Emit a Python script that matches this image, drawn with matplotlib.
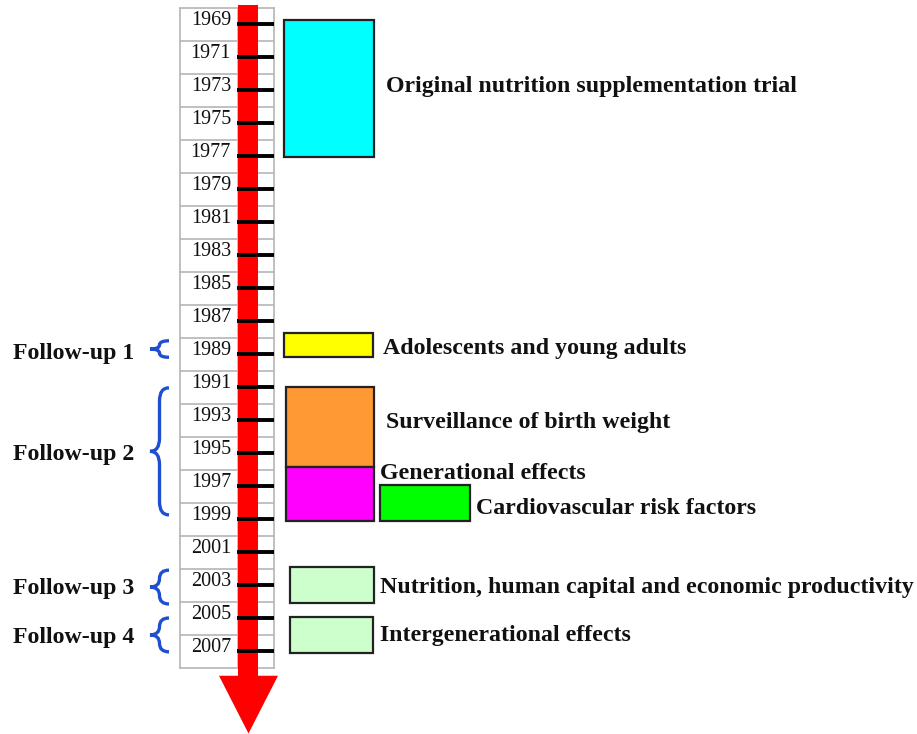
import numpy as np
import matplotlib.pyplot as plt
from matplotlib.patches import Rectangle, Polygon, PathPatch
from matplotlib.path import Path

# data
years = list(range(1969, 2008, 2))
study_labels = [
    "Original nutrition supplementation trial",
    "Adolescents and young adults",
    "Surveillance of birth weight",
    "Generational effects",
    "Cardiovascular risk factors",
    "Nutrition, human capital and economic productivity",
    "Intergenerational effects",
]
study_start = [1968.75, 1987.7, 1991.0, 1995.85, 1996.95, 2001.9, 2004.95]
study_end = [1977.05, 1989.2, 1995.85, 1999.1, 1999.1, 2004.1, 2007.1]
study_colors = ["#00ffff", "#ffff00", "#ff9933", "#ff00ff", "#00ff00", "#ccffcc", "#ccffcc"]

followup_labels = ["Follow-up 1", "Follow-up 2", "Follow-up 3", "Follow-up 4"]
followup_start = [1988.2, 1991.05, 2002.1, 2005.0]
followup_end = [1989.2, 1998.75, 2004.15, 2007.05]

# layout (x in pixels, y in years)
box_x = [(284, 374), (284, 373), (286, 374), (286, 374), (380, 470), (290, 374), (290, 373)]
label_pos = [(386, 1972.76), (383, 1988.64), (386, 1993.18), (380, 1996.27),
             (476, 1998.39), (380, 2003.18), (380, 2006.09)]
followup_y = [1989.0, 1995.12, 2003.24, 2006.21]

SERIF = "Liberation Serif"

fig = plt.figure(figsize=(9.17, 7.34), dpi=100)
ax = fig.add_axes([0, 0, 1, 1])
ax.set_xlim(0, 917)
ax.set_ylim(1969 + 710 / 16.5, 1969 - 24 / 16.5)
ax.axis("off")

# table grid
tab_left, tab_mid, tab_right = 180, 238, 274
top, bottom = years[0] - 1, years[-1] + 1
grid = "#bbbbbb"
for b in np.arange(top, bottom + 1, 2):
    ax.plot([tab_left, tab_right], [b, b], color=grid, lw=1.3, zorder=1)
for xv in (tab_left, tab_mid, tab_right):
    ax.plot([xv, xv], [top, bottom], color=grid, lw=1.3, zorder=1)

# red arrow
shaft_l, shaft_r = 238, 258
ax.add_patch(Rectangle((shaft_l, 1967.85), shaft_r - shaft_l, 2008.55 - 1967.85,
                       facecolor="red", edgecolor="none", zorder=2))
ax.add_patch(Polygon([(219, 2008.5), (278, 2008.5), (248.5, 2012.0)],
                     closed=True, facecolor="red", edgecolor="none", zorder=2))

# ticks and year labels
for y in years:
    ax.plot([237, 274], [y, y], color="black", lw=2.8, solid_capstyle="butt", zorder=3)
    ax.text(231, y - 0.2, str(y), ha="right", va="center", fontsize=14.5,
            family=SERIF, color="#111111", zorder=3)

# study boxes
for (x0, x1), s, e, c in zip(box_x, study_start, study_end, study_colors):
    ax.add_patch(Rectangle((x0, s), x1 - x0, e - s, facecolor=c,
                           edgecolor="#222222", lw=1.6, zorder=4))
for (tx, ty), lab in zip(label_pos, study_labels):
    ax.text(tx, ty, lab, ha="left", va="center", fontsize=17.2, fontweight="bold",
            family=SERIF, color="#111111", zorder=5)


def brace(x_r, x_tip, y0, y1, r):
    xm = (x_r + x_tip) / 2
    ym = (y0 + y1) / 2
    r = min(r, (y1 - y0) / 4)
    verts = [(x_r, y0), (xm, y0), (xm, y0 + r), (xm, ym - r), (xm, ym), (x_tip, ym),
             (xm, ym), (xm, ym + r), (xm, y1 - r), (xm, y1), (x_r, y1)]
    codes = [Path.MOVETO, Path.CURVE3, Path.CURVE3, Path.LINETO, Path.CURVE3, Path.CURVE3,
             Path.CURVE3, Path.CURVE3, Path.LINETO, Path.CURVE3, Path.CURVE3]
    return Path(verts, codes)


for lab, s, e, y in zip(followup_labels, followup_start, followup_end, followup_y):
    ax.add_patch(PathPatch(brace(169, 150, s, e, 0.8), facecolor="none",
                           edgecolor="#1f4fd0", lw=2.4, zorder=4))
    ax.text(13, y, lab, ha="left", va="center", fontsize=17.2, fontweight="bold",
            family=SERIF, color="#111111")

fig.savefig("out.png", dpi=100)
